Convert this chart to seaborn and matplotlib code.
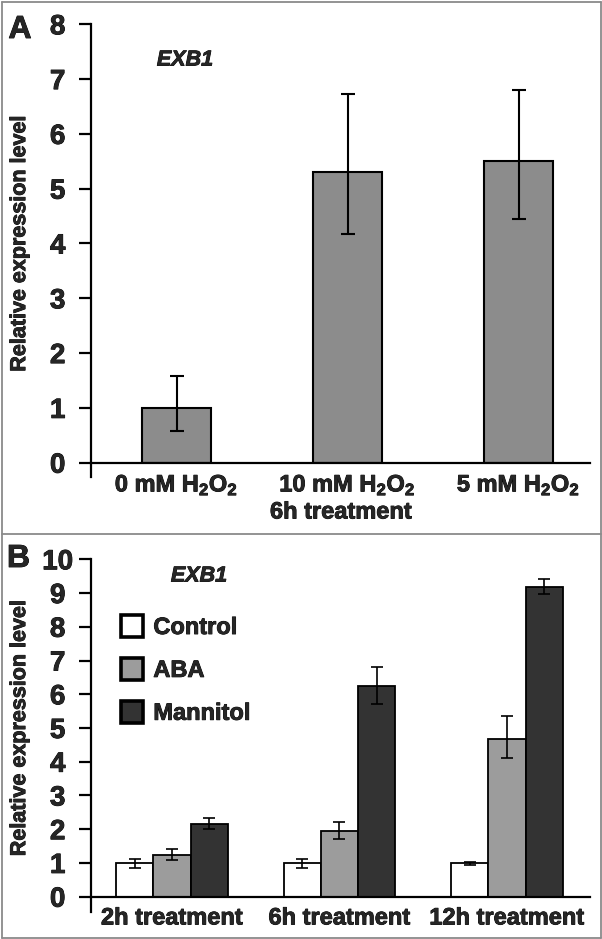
import numpy as np
import pandas as pd
import seaborn as sns
import matplotlib.pyplot as plt
import matplotlib.patheffects as pe
from matplotlib.lines import Line2D

# panel A data
a_labels = ["0 mM H$_2$O$_2$", "10 mM H$_2$O$_2$", "5 mM H$_2$O$_2$"]
a_mean = [1.0, 5.30, 5.51]
a_low = [0.58, 4.17, 4.45]
a_high = [1.58, 6.72, 6.81]

# panel B data
b_times = ["2h treatment", "6h treatment", "12h treatment"]
b_groups = ["Control", "ABA", "Mannitol"]
b_control = [1.0, 1.0, 1.0]
b_aba = [1.24, 1.95, 4.68]
b_mannitol = [2.15, 6.25, 9.19]
b_control_lo = [0.86, 0.86, 0.95]
b_control_hi = [1.12, 1.12, 1.04]
b_aba_lo = [1.09, 1.71, 4.10]
b_aba_hi = [1.41, 2.20, 5.36]
b_mannitol_lo = [2.01, 5.70, 8.96]
b_mannitol_hi = [2.32, 6.80, 9.43]

sns.set_style("white")
plt.rcParams['font.family'] = ['Liberation Sans', 'DejaVu Sans']
plt.rcParams['font.weight'] = 'bold'
plt.rcParams['mathtext.fontset'] = 'custom'
plt.rcParams['mathtext.bf'] = 'Liberation Sans:bold'
plt.rcParams['mathtext.rm'] = 'Liberation Sans:bold'
plt.rcParams['mathtext.default'] = 'bf'

# slightly heavier strokes, like the scanned figure
heavy = [pe.withStroke(linewidth=0.6, foreground='black')]

W, H = 602, 939
fig = plt.figure(figsize=(W / 100, H / 100), dpi=100)


def px_axes(x0, x1, ytop, ybot):
    return fig.add_axes([x0 / W, 1 - ybot / H, (x1 - x0) / W, (ybot - ytop) / H])


def style_axes(ax, ymax, below):
    sns.despine(ax=ax)
    for s in ['left', 'bottom']:
        ax.spines[s].set_linewidth(1.6)
        ax.spines[s].set_color('black')
    ax.set_ylim(0, ymax)
    ax.spines['left'].set_bounds(-below, ymax)
    ax.set_yticks(range(0, ymax + 1))
    ax.tick_params(axis='y', direction='out', length=8.5, width=1.6, pad=15.5,
                   labelsize=20, left=True, color='black')
    ax.tick_params(axis='x', length=0, pad=7, labelsize=17)
    plt.setp(ax.get_yticklabels(), fontweight='bold', ha='center', path_effects=heavy)
    plt.setp(ax.get_xticklabels(), fontweight='bold', path_effects=heavy)
    ax.set_xlabel("")
    ax.set_ylabel("Relative expression level", fontsize=15.5, fontweight='bold',
                  path_effects=heavy)
    ax.yaxis.set_label_coords(-0.122, 0.5)


# ---- panel A
axA = px_axes(91, 590, 24.3, 462.7)
dfa = pd.DataFrame({"treat": a_labels, "val": a_mean})
sns.barplot(data=dfa, x="treat", y="val", color="#8c8c8c", saturation=1,
            edgecolor="black", linewidth=1.5, width=0.40, errorbar=None, ax=axA)
xs = [p.get_x() + p.get_width() / 2 for p in axA.patches]
yerr = [np.array(a_mean) - np.array(a_low), np.array(a_high) - np.array(a_mean)]
axA.errorbar(xs, a_mean, yerr=yerr, fmt='none', ecolor='black', elinewidth=1.5,
             capsize=5, capthick=1.5)
axA.set_xlim(-0.5, 2.418)
style_axes(axA, 8, 0.27)
fig.text(185 / W, 1 - 60 / H, "EXB1", fontsize=15.5, fontweight='bold',
         style='italic', ha='center', va='center', path_effects=heavy)
fig.text(341 / W, 1 - 512 / H, "6h treatment", fontsize=17, fontweight='bold',
         ha='center', va='center', path_effects=heavy)
fig.text(20 / W, 1 - 30 / H, "A", fontsize=23, fontweight='bold', ha='center',
         va='center', path_effects=heavy)

# ---- panel B
axB = px_axes(91, 590, 559.3, 896.7)
dfb = pd.DataFrame({
    "time": b_times * 3,
    "group": np.repeat(b_groups, 3),
    "val": b_control + b_aba + b_mannitol,
})
pal = {"Control": "#ffffff", "ABA": "#9c9c9c", "Mannitol": "#333333"}
sns.barplot(data=dfb, x="time", y="val", hue="group", hue_order=b_groups,
            palette=pal, saturation=1, edgecolor="black", linewidth=1.3,
            width=0.666, errorbar=None, ax=axB)
lows = [b_control_lo, b_aba_lo, b_mannitol_lo]
highs = [b_control_hi, b_aba_hi, b_mannitol_hi]
means = [b_control, b_aba, b_mannitol]
for cont, m, lo, hi in zip(axB.containers, means, lows, highs):
    bx = [p.get_x() + p.get_width() / 2 for p in cont]
    m = np.array(m)
    axB.errorbar(bx, m, yerr=[m - np.array(lo), np.array(hi) - m], fmt='none',
                 ecolor='black', elinewidth=1.2, capsize=4, capthick=1.2)
axB.set_xlim(-0.484, 2.496)
style_axes(axB, 10, 0.44)
handles, labels = axB.get_legend_handles_labels()
for h in handles:
    h.set_linewidth(2.6)
leg = axB.legend(handles, labels, loc='upper left', bbox_to_anchor=(121 / W, 1 - 615 / H),
                 bbox_transform=fig.transFigure, frameon=False,
                 prop={'size': 17, 'weight': 'bold'},
                 handlelength=0.95, handleheight=1.05, handletextpad=0.42,
                 labelspacing=0.8, borderpad=0, borderaxespad=0)
for t in leg.get_texts():
    t.set_path_effects(heavy)
fig.text(199 / W, 1 - 576 / H, "EXB1", fontsize=15.5, fontweight='bold',
         style='italic', ha='center', va='center', path_effects=heavy)
fig.text(18.5 / W, 1 - 559 / H, "B", fontsize=23, fontweight='bold', ha='center',
         va='center', path_effects=heavy)

# frame and divider
border = "#8a8a8a"
for xx, yy in [([1.5, 600.5], [1.5, 1.5]), ([1.5, 600.5], [937.5, 937.5]),
               ([1.5, 1.5], [1.5, 937.5]), ([600.5, 600.5], [1.5, 937.5]),
               ([1.5, 600.5], [534, 534])]:
    fig.add_artist(Line2D([x / W for x in xx], [1 - y / H for y in yy],
                          transform=fig.transFigure, color=border, linewidth=1.3))

fig.savefig("out.png", dpi=100)
